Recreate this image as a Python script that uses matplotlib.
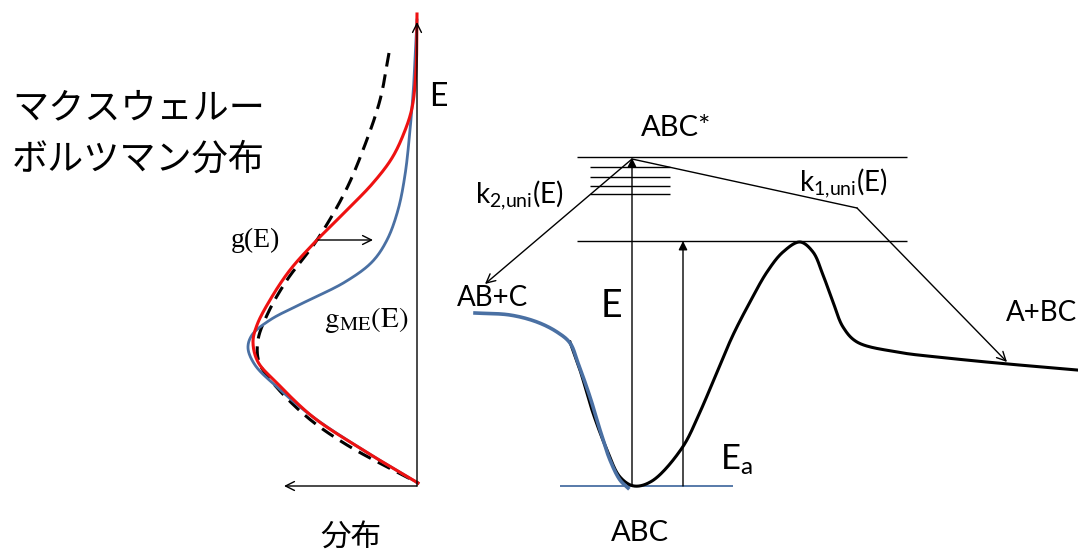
import numpy as np
import matplotlib
matplotlib.use("Agg")
import matplotlib.pyplot as plt

plt.rcParams['font.family'] = ['Lato', 'Noto Sans CJK JP', 'DejaVu Sans']
plt.rcParams['mathtext.fontset'] = 'custom'
plt.rcParams['mathtext.rm'] = 'Lato'
plt.rcParams['mathtext.it'] = 'Lato:italic'

# ---- data (picture pixel coords, y grows downward) ----
# left panel: distributions vs energy
red_x = [417, 416, 412, 404, 392, 373, 347, 317, 290, 270, 257, 253, 258, 277, 313, 363, 418]
red_y = [14, 70, 108, 133, 158, 183, 210, 240, 270, 300, 325, 342, 362, 383, 417, 450, 483]
gme_x = [417, 414, 410, 405, 398, 387, 372, 345, 303, 270, 252, 248, 255, 277, 313, 363, 418]
gme_y = [20, 80, 130, 175, 210, 240, 262, 282, 303, 320, 335, 348, 365, 387, 417, 450, 483]
mb_x = [389, 380, 363, 345, 317, 287, 268, 258, 259, 273, 307, 347, 418]
mb_y = [53, 100, 150, 192, 240, 280, 313, 340, 362, 383, 417, 445, 483]

# right panel: potential energy surface
pes_x = [570, 580, 593, 607, 620, 634, 652, 682, 700, 717, 733, 750, 767, 783, 800, 813, 823, 833, 843, 857, 897, 947, 997, 1077]
pes_y = [342, 370, 413, 450, 477, 486, 481, 448, 412, 372, 335, 302, 272, 252, 242, 252, 275, 302, 327, 342, 352, 358, 363, 370]
ab_x = [475, 510, 537, 557, 570, 578, 590, 600, 610, 620, 628]
ab_y = [313, 315, 322, 332, 343, 363, 397, 430, 460, 480, 488]

levels_y = [167, 177, 186, 194]
top_level, ts_level, base_level = 157, 241, 486

BLUE = '#4A70A3'
RED = '#EE1111'


def smooth(xs, ys, n=24, alpha=0.5):
    # centripetal catmull-rom through the read points
    p = np.column_stack([xs, ys]).astype(float)
    p = np.vstack([2 * p[0] - p[1], p, 2 * p[-1] - p[-2]])
    out = []
    for i in range(1, len(p) - 2):
        p0, p1, p2, p3 = p[i - 1], p[i], p[i + 1], p[i + 2]
        t0 = 0.0
        t1 = t0 + np.linalg.norm(p1 - p0) ** alpha
        t2 = t1 + np.linalg.norm(p2 - p1) ** alpha
        t3 = t2 + np.linalg.norm(p3 - p2) ** alpha
        t = np.linspace(t1, t2, n, endpoint=False)[:, None]
        a1 = (t1 - t) / (t1 - t0) * p0 + (t - t0) / (t1 - t0) * p1
        a2 = (t2 - t) / (t2 - t1) * p1 + (t - t1) / (t2 - t1) * p2
        a3 = (t3 - t) / (t3 - t2) * p2 + (t - t2) / (t3 - t2) * p3
        b1 = (t2 - t) / (t2 - t0) * a1 + (t - t0) / (t2 - t0) * a2
        b2 = (t3 - t) / (t3 - t1) * a2 + (t - t1) / (t3 - t1) * a3
        out.append((t2 - t) / (t2 - t1) * b1 + (t - t1) / (t2 - t1) * b2)
    out.append(p[-2][None])
    c = np.vstack(out)
    return c[:, 0], c[:, 1]


def arrow(ax, x0, y0, x1, y1, style='->', lw=1.0, ms=16):
    ax.annotate('', xy=(x1, y1), xytext=(x0, y0),
                arrowprops=dict(arrowstyle=style, lw=lw, color='black',
                                mutation_scale=ms, shrinkA=0, shrinkB=0))


fig = plt.figure(figsize=(10.78, 5.56), dpi=100)
ax = fig.add_axes([0, 0, 1, 1])
ax.set_xlim(0, 1078)
ax.set_ylim(556, 0)
ax.axis('off')

# ---- left panel ----
arrow(ax, 417, 486, 417, 22)
arrow(ax, 417, 486, 284, 486)
ax.plot(*smooth(mb_x, mb_y), color='black', lw=2.2, ls=(0, (4.5, 2.6)))
ax.plot(*smooth(gme_x, gme_y), color=BLUE, lw=2.0)
ax.plot(*smooth(red_x, red_y), color=RED, lw=2.2)
arrow(ax, 318, 240, 373, 240)

ax.text(12, 108, 'マクスウェルー', fontsize=26, family=['Noto Sans CJK JP'], ha='left', va='center')
ax.text(12, 160, 'ボルツマン分布', fontsize=26, family=['Noto Sans CJK JP'], ha='left', va='center')
ax.text(351, 538, '分布', fontsize=22, family=['Noto Sans CJK JP'], ha='center', va='center')
ax.text(429, 97, 'E', fontsize=23, ha='left', va='center')
ax.text(255, 240, 'g(E)', fontsize=20, family=['Liberation Serif'], ha='center', va='center')
ax.text(366, 320, r'$\mathrm{g}_{\mathrm{ME}}\mathrm{(E)}$', fontsize=21, math_fontfamily='stix',
        ha='center', va='center')

# ---- right panel ----
ax.hlines([top_level, ts_level], 577, 907, color='black', lw=1.0)
ax.hlines(levels_y, 590, 670, color='black', lw=1.0)
ax.hlines(base_level, 560, 733, color=BLUE, lw=1.3)
ax.plot(*smooth(pes_x, pes_y), color='black', lw=2.2)
ax.plot(*smooth(ab_x, ab_y), color=BLUE, lw=2.6)

arrow(ax, 632, base_level, 632, top_level + 1, style='-|>', ms=13)
arrow(ax, 683, base_level, 683, ts_level, style='-|>', ms=13)
arrow(ax, 632, 159, 485, 284)
ax.plot([632, 857], [159, 208], color='black', lw=1.0)
arrow(ax, 857, 208, 1007, 362)

ax.text(676, 128, 'ABC*', fontsize=21, ha='center', va='center')
ax.text(493, 298, 'AB+C', fontsize=20, ha='center', va='center')
ax.text(1042, 313, 'A+BC', fontsize=20, ha='center', va='center')
ax.text(640, 533, 'ABC', fontsize=21, ha='center', va='center')
ax.text(611, 306, 'E', fontsize=27, ha='center', va='center')
ax.text(720, 460, r'$\mathrm{E}_{\mathrm{a}}$', fontsize=25, ha='left', va='center')
ax.text(519, 195, r'$\mathrm{k}_{\mathrm{2{,}uni}}\mathrm{(E)}$', fontsize=20, ha='center', va='center')
ax.text(843, 183, r'$\mathrm{k}_{\mathrm{1{,}uni}}\mathrm{(E)}$', fontsize=20, ha='center', va='center')

fig.savefig('out.png', dpi=100)
